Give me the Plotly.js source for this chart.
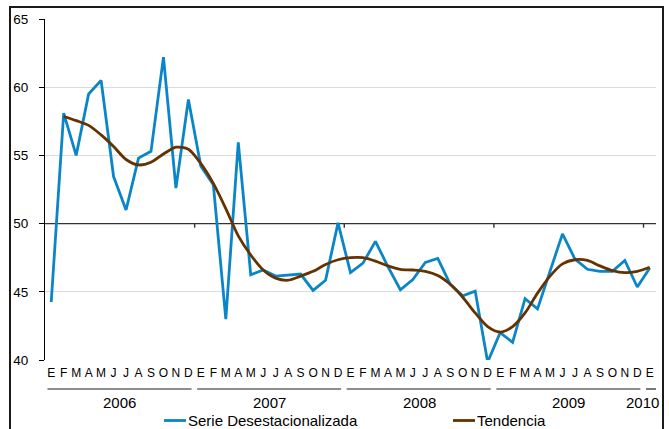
<!DOCTYPE html>
<html>
<head>
<meta charset="utf-8">
<script src="https://cdn.plot.ly/plotly-3.0.1.min.js"></script>
<style>
html,body{margin:0;padding:0;background:#fff;}
#chart{width:669px;height:429px;}
</style>
</head>
<body>
<div id="chart"></div>
<script>
// ---- data ----
var monthLetters = ['E','F','M','A','M','J','J','A','S','O','N','D'];
var years = ['2006','2007','2008','2009','2010'];
var monthsPerYear = [12, 12, 12, 12, 1];
var seriesNames = ['Serie Desestacionalizada', 'Tendencia'];

var serieDesestacionalizada = [
  44.25, 58.1, 55.0, 59.5, 60.5, 53.45, 51.0, 54.8, 55.3, 62.2, 52.6, 59.1,
  54.2, 52.85, 43.0, 55.95, 46.25, 46.6, 46.15, 46.25, 46.3, 45.1, 45.85, 50.05,
  46.4, 47.1, 48.7, 46.85, 45.15, 45.9, 47.15, 47.45, 45.55, 44.7, 45.05, 39.85,
  42.0, 41.3, 44.5, 43.75, 46.5, 49.25, 47.4, 46.65, 46.5, 46.5, 47.3, 45.35,
  46.75
];
var tendencia = [
  null, 57.85, 57.55, 57.2, 56.5, 55.65, 54.7, 54.3, 54.5, 55.1, 55.6, 55.45,
  54.4, 52.95, 51.1, 49.1, 47.7, 46.6, 46.0, 45.85, 46.15, 46.5, 47.0, 47.35,
  47.5, 47.5, 47.25, 46.9, 46.65, 46.6, 46.5, 46.2, 45.55, 44.6, 43.45, 42.45,
  42.05, 42.45, 43.45, 44.9, 46.15, 47.05, 47.35, 47.3, 46.9, 46.55, 46.4, 46.5,
  46.8
];

// ---- build category positions ----
var xIdx = [], tickText = [];
var yearStart = [];
var k = 0;
for (var yi = 0; yi < years.length; yi++) {
  yearStart.push(k);
  for (var m = 0; m < monthsPerYear[yi]; m++) {
    xIdx.push(k);
    tickText.push(monthLetters[m]);
    k++;
  }
}

var FONT = 'Liberation Sans, Arial, sans-serif';
var BLUE = '#0a86c8', BROWN = '#653200';
var X_RANGE = [-0.5, 48.5];

var traces = [
  {
    x: xIdx, y: serieDesestacionalizada, type: 'scatter', mode: 'lines',
    name: seriesNames[0], showlegend: false,
    line: {color: BLUE, width: 2.8}
  },
  {
    x: xIdx, y: tendencia, type: 'scatter', mode: 'lines',
    name: seriesNames[1], showlegend: false,
    line: {color: BROWN, width: 2.8, shape: 'spline', smoothing: 0.8}
  }
];

// pixel geometry helpers
var W = 669, H = 429, mL = 45, mR = 13, mT = 19, mB = 69;
var pw = W - mL - mR, ph = H - mT - mB;
function pxX(px){ return (px - mL) / pw; }
function pxY(py){ return (H - mB - py) / ph; }

var shapes = [];
var annotations = [];

// frame
shapes.push({type:'rect', xref:'paper', yref:'paper',
  x0: pxX(10), x1: pxX(663), y0: pxY(445), y1: pxY(7),
  line:{color:'#1a1a1a', width:2}, fillcolor:'rgba(0,0,0,0)', layer:'below'});

// category axis line crossing at 50
shapes.push({type:'line', xref:'x', yref:'y', x0:X_RANGE[0], x1:X_RANGE[1], y0:50, y1:50,
  line:{color:'#333333', width:1.4}, layer:'between'});

// year boundary ticks on the crossing axis + separators and year labels
for (var i = 0; i < years.length; i++) {
  var s = yearStart[i], e = s + monthsPerYear[i] - 1;
  if (i > 0) {
    shapes.push({type:'line', xref:'x', yref:'y', x0:s-0.5, x1:s-0.5, y0:50, y1:49.7,
      line:{color:'#333333', width:1.4}, layer:'between'});
  }
  var segEnd = (i === years.length - 1) ? e + 0.65 : e + 0.25;
  shapes.push({type:'line', xref:'x', yref:'paper', x0:s-0.3, x1:segEnd,
    y0:pxY(389), y1:pxY(389), line:{color:'#1e1e1e', width:1.2}});
  if (i === years.length - 1) {
    annotations.push({xref:'paper', yref:'paper', x:pxX(661), y:pxY(403), xanchor:'right', yanchor:'middle',
      text: years[i], showarrow:false, font:{family:FONT, size:15, color:'#000'}});
  } else {
    annotations.push({xref:'x', yref:'paper', x:(s+e)/2, y:pxY(403), xanchor:'center', yanchor:'middle',
      text: years[i], showarrow:false, font:{family:FONT, size:15, color:'#000'}});
  }
}

// legend (drawn as line samples + text)
var legendItems = [
  {name: seriesNames[0], color: BLUE, x0: 164, x1: 186},
  {name: seriesNames[1], color: BROWN, x0: 453, x1: 475}
];
legendItems.forEach(function(it){
  shapes.push({type:'line', xref:'paper', yref:'paper', x0:pxX(it.x0), x1:pxX(it.x1),
    y0:pxY(420.5), y1:pxY(420.5), line:{color:it.color, width:2.8}});
  annotations.push({xref:'paper', yref:'paper', x:pxX(it.x1 + 0.5), y:pxY(420), xanchor:'left', yanchor:'middle',
    text: it.name, showarrow:false, font:{family:FONT, size:15, color:'#000'},
    borderpad:0});
});

var layout = {
  width: W, height: H,
  margin: {l: mL, r: mR, t: mT, b: mB, pad: 0, autoexpand: false},
  paper_bgcolor: '#ffffff', plot_bgcolor: '#ffffff',
  font: {family: FONT, color: '#000'},
  showlegend: false,
  xaxis: {
    range: X_RANGE, tickmode: 'array', tickvals: xIdx, ticktext: tickText,
    showgrid: false, zeroline: false, showline: false, ticks: '',
    tickfont: {family: FONT, size: 12, color: '#000'}, tickangle: 0,
    ticklabelstandoff: 4, fixedrange: true, automargin: false
  },
  yaxis: {
    range: [40, 65], tickvals: [40, 45, 50, 55, 60, 65],
    showgrid: true, gridcolor: '#dcdcdc', gridwidth: 1, zeroline: false,
    showline: true, linecolor: '#000', linewidth: 1,
    ticks: 'outside', ticklen: 5, tickcolor: '#000', tickwidth: 1,
    tickfont: {family: FONT, size: 13.5, color: '#000'},
    ticklabelstandoff: 8, fixedrange: true, automargin: false
  },
  shapes: shapes,
  annotations: annotations
};

Plotly.newPlot('chart', traces, layout, {displayModeBar: false, staticPlot: true});
</script>
</body>
</html>
